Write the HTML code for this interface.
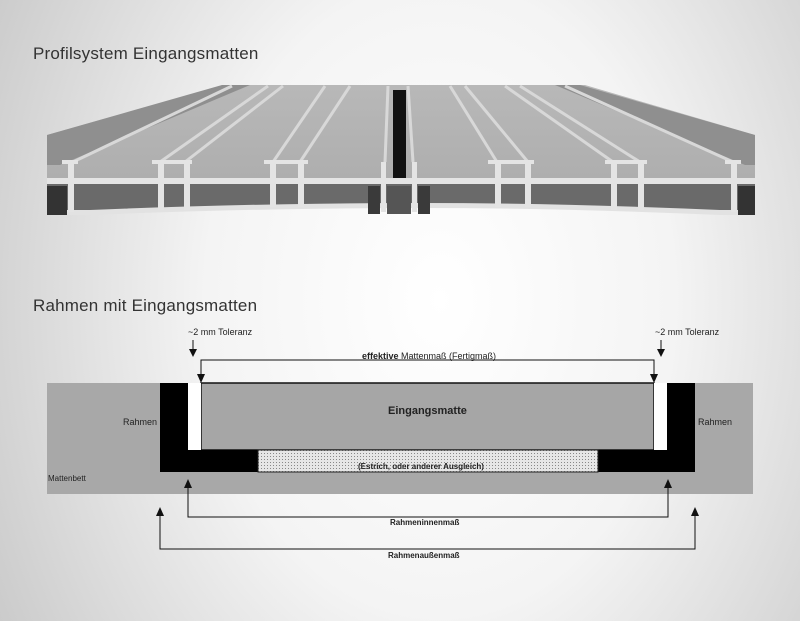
<!DOCTYPE html>
<html><head><meta charset="utf-8"><style>
html,body{margin:0;padding:0}
body{width:800px;height:621px;overflow:hidden;position:relative;font-family:"Liberation Sans",sans-serif;
background:radial-gradient(ellipse 520px 700px at 440px 300px,#ffffff 0%,#f4f4f4 45%,#d8d8d8 80%,#c8c8c8 100%);}
.t{position:absolute;font-size:17px;color:#333;letter-spacing:0.2px}
.s{position:absolute;font-size:9px;color:#222;white-space:nowrap}
.b{font-weight:bold}
</style></head><body>
<div class="t" style="left:33px;top:44px">Profilsystem Eingangsmatten</div>
<div class="t" style="left:33px;top:296px">Rahmen mit Eingangsmatten</div>

<svg width="800" height="621" style="position:absolute;left:0;top:0">
<defs>
<linearGradient id="top" x1="0" y1="0" x2="0" y2="1"><stop offset="0" stop-color="#b8b8b8"/><stop offset="1" stop-color="#aeaeae"/></linearGradient>
<pattern id="dots" width="3" height="3" patternUnits="userSpaceOnUse"><rect width="3" height="3" fill="#e6e6e6"/><rect width="1" height="1" fill="#888"/></pattern>
</defs>
<polygon points="47,135 225,85 585,85 755,135 755,180 47,180" fill="url(#top)"/>
<polygon points="47,135 222,85 250,85 60,165 47,165" fill="#8f8f8f"/>
<polygon points="755,135 580,85 555,85 745,165 755,165" fill="#8f8f8f"/>
<g stroke="#d8d8d8" stroke-width="3" fill="none">
<line x1="73" y1="162" x2="232" y2="86"/>
<line x1="160" y1="162" x2="268" y2="86"/><line x1="185" y1="162" x2="283" y2="86"/>
<line x1="273" y1="162" x2="325" y2="86"/><line x1="300" y1="162" x2="350" y2="86"/>
<line x1="385" y1="162" x2="388" y2="86"/><line x1="413" y1="162" x2="408" y2="86"/>
<line x1="497" y1="162" x2="450" y2="86"/><line x1="528" y1="162" x2="465" y2="86"/>
<line x1="613" y1="162" x2="505" y2="86"/><line x1="640" y1="162" x2="520" y2="86"/>
<line x1="733" y1="162" x2="565" y2="86"/>
</g>
<rect x="393" y="90" width="13" height="95" fill="#111"/>
<path d="M47,184 H755 V212 H720 Q560,205 420,205 Q260,205 90,212 H47 Z" fill="#6a6a6a"/>
<path d="M47,210 H90 Q260,203 420,203 Q560,203 720,210 H755 V215 H720 Q560,208 420,208 Q260,208 90,215 H47 Z" fill="#e2e2e2"/>
<rect x="47" y="178" width="708" height="6" fill="#e4e4e4"/>
<g fill="#e4e4e4">
<rect x="68" y="162" width="6" height="50"/><rect x="158" y="162" width="6" height="48"/><rect x="184" y="162" width="6" height="48"/>
<rect x="270" y="162" width="6" height="45"/><rect x="298" y="162" width="6" height="45"/>
<rect x="381" y="162" width="5" height="50"/><rect x="412" y="162" width="5" height="50"/>
<rect x="495" y="162" width="6" height="45"/><rect x="525" y="162" width="6" height="45"/>
<rect x="611" y="162" width="6" height="48"/><rect x="638" y="162" width="6" height="48"/><rect x="731" y="162" width="6" height="50"/>
<rect x="62" y="160" width="16" height="4"/><rect x="152" y="160" width="40" height="4"/><rect x="264" y="160" width="44" height="4"/>
<rect x="488" y="160" width="46" height="4"/><rect x="605" y="160" width="42" height="4"/><rect x="725" y="160" width="16" height="4"/>
</g>
<rect x="47" y="186" width="20" height="29" fill="#333"/><rect x="738" y="186" width="17" height="29" fill="#333"/>
<rect x="368" y="186" width="12" height="28" fill="#3a3a3a"/><rect x="418" y="186" width="12" height="28" fill="#3a3a3a"/>
<rect x="387" y="186" width="24" height="28" fill="#555"/>

<rect x="47" y="383" width="706" height="111" fill="#a8a8a8"/>
<rect x="201" y="383" width="453" height="67" fill="#a6a6a6" stroke="#111" stroke-width="1.5"/>
<rect x="188" y="383" width="13" height="67" fill="#fff"/>
<rect x="654" y="383" width="13" height="67" fill="#fff"/>
<path d="M160,383 H188 V450 H258 V472 H160 Z" fill="#000"/>
<path d="M667,383 H695 V472 H598 V450 H667 Z" fill="#000"/>
<rect x="258" y="450" width="340" height="22" fill="url(#dots)" stroke="#222" stroke-width="1"/>
<g stroke="#111" stroke-width="1" fill="none">
<polyline points="201,374 201,360 654,360 654,374"/>
<line x1="193" y1="340" x2="193" y2="350"/><line x1="661" y1="340" x2="661" y2="350"/>
<polyline points="188,488 188,517 668,517 668,488"/>
<polyline points="160,516 160,549 695,549 695,516"/>
</g>
<g fill="#111">
<polygon points="197,374 205,374 201,383"/><polygon points="650,374 658,374 654,383"/>
<polygon points="189,349 197,349 193,357"/><polygon points="657,349 665,349 661,357"/>
<polygon points="184,488 192,488 188,479"/><polygon points="664,488 672,488 668,479"/>
<polygon points="156,516 164,516 160,507"/><polygon points="691,516 699,516 695,507"/>
</g>
</svg>
<div class="s" style="left:188px;top:327px">~2 mm Toleranz</div>
<div class="s" style="left:655px;top:327px">~2 mm Toleranz</div>
<div class="s" style="left:362px;top:351px"><span class="b">effektive</span> Mattenmaß (Fertigmaß)</div>
<div class="s b" style="left:388px;top:405px;font-size:11px">Eingangsmatte</div>
<div class="s" style="left:123px;top:417px">Rahmen</div>
<div class="s" style="left:698px;top:417px">Rahmen</div>
<div class="s b" style="left:358px;top:462px;font-size:8px">(Estrich, oder anderer Ausgleich)</div>
<div class="s" style="left:48px;top:474px;font-size:8px">Mattenbett</div>
<div class="s b" style="left:390px;top:518px;font-size:8px">Rahmeninnenmaß</div>
<div class="s b" style="left:388px;top:551px;font-size:8px">Rahmenaußenmaß</div>
</body></html>
